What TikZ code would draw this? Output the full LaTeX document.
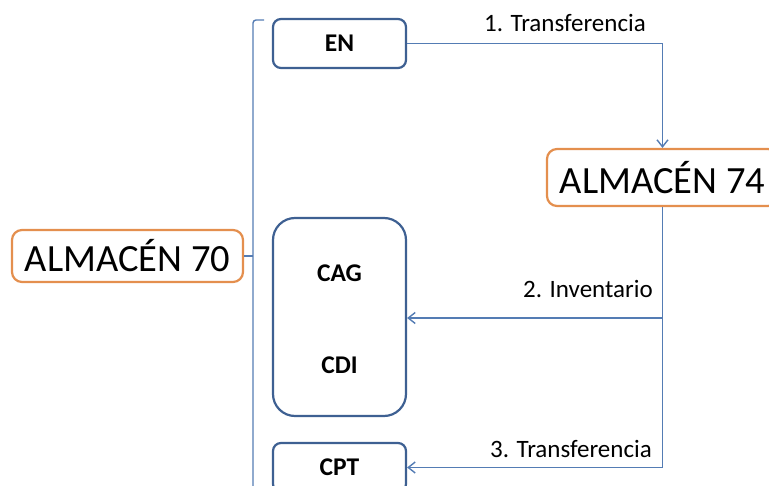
\documentclass[tikz,border=0pt]{standalone}
\usepackage{fontspec}
\setmainfont{Carlito}
\usetikzlibrary{arrows.meta}

\definecolor{linkblue}{RGB}{84,124,180}
\definecolor{boxblue}{RGB}{62,96,146}
\definecolor{storeorange}{RGB}{228,143,78}

\tikzset{
  unitbox/.style={draw=boxblue, line width=2.2pt, rounded corners=8pt, fill=white,
    minimum width=133pt, minimum height=49pt, inner sep=0pt,
    font=\fontsize{25.5}{30}\selectfont\bfseries},
  groupbox/.style={draw=boxblue, line width=2.2pt, rounded corners=22pt, fill=white,
    minimum width=133pt, minimum height=198pt, inner sep=0pt},
  unitlabel/.style={inner sep=0pt, font=\fontsize{25.5}{30}\selectfont\bfseries},
  storebox/.style={draw=storeorange, line width=2.2pt, rounded corners=10pt, fill=white,
    minimum width=231pt, inner sep=0pt, font=\fontsize{38.5}{44}\selectfont},
  link/.style={draw=linkblue, line width=1.4pt},
  linkarrow/.style={link, -{Straight Barb[length=7pt,width=11pt,line width=1.4pt]}},
  steplabel/.style={inner sep=0pt, anchor=base east, font=\fontsize{25}{30}\selectfont},
}

\begin{document}
\begin{tikzpicture}[x=1pt, y=-1pt]
  \useasboundingbox (0,0) rectangle (769,486);
  \clip (0,0) rectangle (769,486);

  % warehouses
  \node[storebox, minimum height=52pt] (a70) at (127.5,256) {ALMACÉN 70};
  \node[storebox, minimum height=57pt] (a74) at (662.5,177.5) {ALMACÉN 74};

  % units grouped under warehouse 70
  \node[unitbox] (en) at (339.5,43.5) {EN};
  \node[groupbox] (grp) at (339.5,317) {};
  \node[unitlabel] (cag) at (339.5,273) {CAG};
  \node[unitlabel] (cdi) at (339.5,365) {CDI};
  \node[unitbox] (cpt) at (339.5,467.5) {CPT};

  % bracket joining the units to warehouse 70
  \coordinate (brtop) at (253,20);
  \coordinate (brbot) at (253,500);
  \draw[link, rounded corners=3pt] (264,20) -- (brtop) -- (brbot);
  \draw[link] (a70.east) -- (a70.east -| brtop);

  % 1. transfer EN -> ALMACÉN 74
  \draw[linkarrow] (en.east) -| (a74.north);
  \node[steplabel] (l1) at (646,32) {1. Transferencia};

  % 2. inventory and 3. transfer back from ALMACÉN 74
  \coordinate (j2) at (a74.south |- 0,318);
  \coordinate (j3) at (a74.south |- cpt.east);
  \draw[link] (a74.south) -- (j3);
  \draw[linkarrow] (j2) -- (j2 -| grp.east);
  \draw[linkarrow] (j3) -- (cpt.east);
  \node[steplabel] (l2) at (653,298) {2. Inventario};
  \node[steplabel] (l3) at (652,457) {3. Transferencia};
\end{tikzpicture}
\end{document}
